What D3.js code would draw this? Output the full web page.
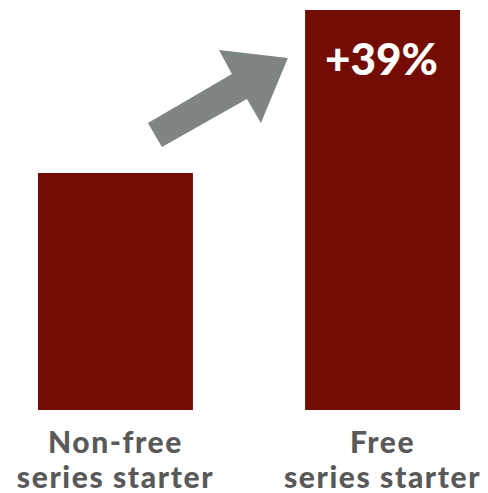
<!DOCTYPE html>
<html>
<head>
<meta charset="utf-8">
<script src="https://cdn.jsdelivr.net/npm/d3@7"></script>
<style>
  html, body { margin: 0; padding: 0; background: #fff; }
  svg { display: block; }
</style>
</head>
<body>
<div id="chart"></div>
<script>
// Index values: non-free starter = 100, free starter = 139 (+39%)
const categories = ["Non-free\nseries starter", "Free\nseries starter"];
const values = [100, 139];
const changeLabel = "+39%";
const axisFloor = 43.3; // truncated value axis

const width = 488, height = 493;
const margin = { top: 10, right: 28, bottom: 83, left: 38 };

const svg = d3.select("#chart").append("svg")
  .attr("width", width)
  .attr("height", height);

const x = d3.scaleBand()
  .domain(categories)
  .range([margin.left, width - margin.right])
  .paddingInner(0.42)
  .paddingOuter(0);

const y = d3.scaleLinear()
  .domain([axisFloor, d3.max(values)])
  .range([height - margin.bottom, margin.top]);

const data = categories.map((c, i) => ({ c, v: values[i] }));

svg.selectAll("rect.bar")
  .data(data)
  .join("rect")
  .attr("class", "bar")
  .attr("x", d => x(d.c))
  .attr("y", d => y(d.v))
  .attr("width", x.bandwidth())
  .attr("height", d => y(axisFloor) - y(d.v))
  .attr("fill", "#730c02");

// Category labels, two lines each
const labels = svg.selectAll("text.cat")
  .data(data)
  .join("text")
  .attr("class", "cat")
  .attr("text-anchor", "middle")
  .attr("font-family", "Lato, 'Open Sans', sans-serif")
  .attr("font-weight", 900)
  .attr("font-size", 30)
  .attr("letter-spacing", 1.6)
  .attr("fill", "#595959")
  .attr("x", d => x(d.c) + x.bandwidth() / 2)
  .attr("y", y(axisFloor) + 43);

labels.selectAll("tspan")
  .data(d => d.c.split("\n"))
  .join("tspan")
  .attr("x", function () { return d3.select(this.parentNode).attr("x"); })
  .attr("dy", (d, i) => i === 0 ? 0 : 35)
  .text(d => d);

// Change label inside the taller bar
const tallBar = data[1];
svg.append("text")
  .attr("text-anchor", "middle")
  .attr("font-family", "Lato, 'Open Sans', sans-serif")
  .attr("font-weight", 900)
  .attr("font-size", 44)
  .attr("fill", "#ffffff")
  .attr("x", x(tallBar.c) + x.bandwidth() / 2 - 1)
  .attr("y", y(tallBar.v) + 65)
  .text(changeLabel);

// Arrow pointing from the shorter bar up toward the taller one,
// placed relative to the right edge of the first bar
const x0 = x(data[0].c) + x.bandwidth();
const arrowShape = [
  [-45, 123], [39, 74], [26, 50], [95, 58],
  [68, 123], [54, 99], [-31, 147]
];
const arrow = arrowShape.map(([dx, py]) => [x0 + dx, py]);

svg.append("path")
  .attr("d", d3.line()(arrow) + "Z")
  .attr("fill", "#7f8581");
</script>
</body>
</html>
